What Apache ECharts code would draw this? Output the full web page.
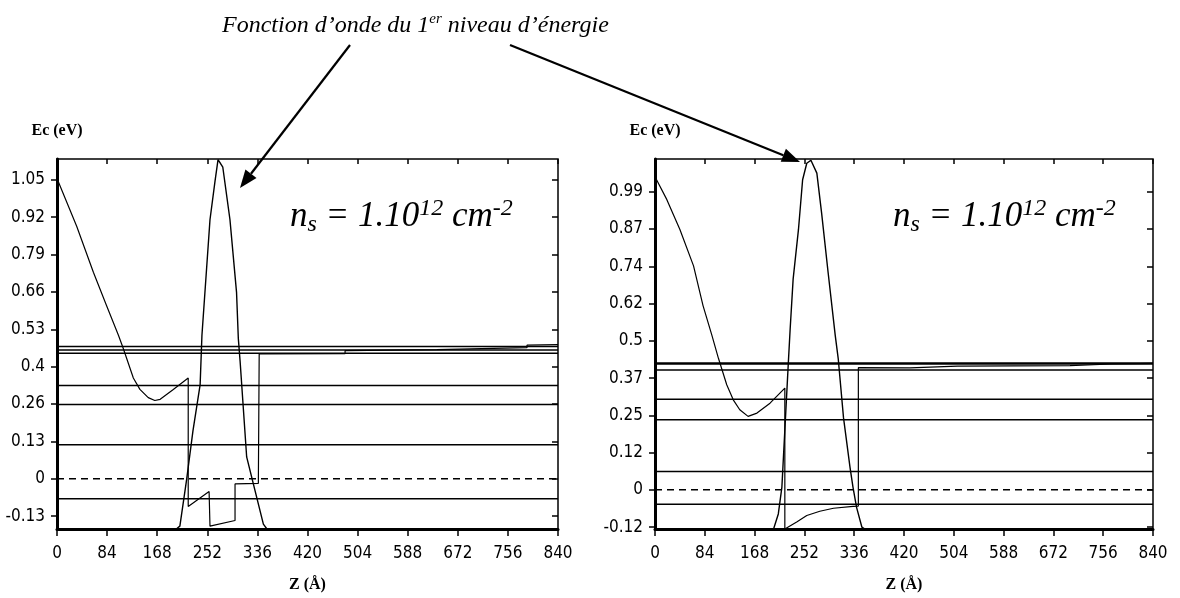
<!DOCTYPE html>
<html>
<head>
<meta charset="utf-8">
<script src="https://cdn.jsdelivr.net/npm/echarts@6/dist/echarts.min.js"></script>
<style>html,body{margin:0;padding:0;background:#fff;}#c{width:1180px;height:598px;}</style>
</head>
<body>
<div id="c"></div>
<script>
// ---------- data ----------
const xTickStep = 84;
const xMax = 840;

// left panel
const yTicksLeft  = [-0.1317, 0, 0.1317, 0.2634, 0.3951, 0.5268, 0.6585, 0.7902, 0.9219, 1.0536];
const yLabelsLeft = ['-0.13', '0', '0.13', '0.26', '0.4', '0.53', '0.66', '0.79', '0.92', '1.05'];
const yRangeLeft  = [-0.177, 1.127];
const levelsLeft  = [-0.0706, 0.1196, 0.2615, 0.329, 0.442, 0.454, 0.466];
const bandLeft = [
  [0, 1.058], [33, 0.89], [61, 0.728], [83, 0.611], [103, 0.506], [111, 0.46], [128, 0.355],
  [139, 0.315], [153, 0.286], [164, 0.276], [173, 0.28], [195, 0.315], [220, 0.355],
  [220, -0.098], [255, -0.045], [256.5, -0.167], [298.5, -0.147], [298.5, -0.018],
  [337.6, -0.016], [339, -0.016], [339, 0.440], [483, 0.441], [483, 0.452], [637, 0.455],
  [637, 0.46], [788, 0.462], [788, 0.471], [840, 0.473]
];
const waveLeft = [
  [200, -0.177], [206, -0.167], [217.5, 0], [228, 0.17], [240, 0.332], [243, 0.505],
  [256.5, 0.913], [265, 1.05], [270, 1.125], [278, 1.098], [290, 0.913], [301, 0.658],
  [304, 0.495], [307, 0.414], [318, 0.077], [329, -0.016], [346, -0.16], [352, -0.177]
];

// right panel
const yTicksRight  = [-0.12375, 0, 0.12375, 0.2475, 0.37125, 0.495, 0.61875, 0.7425, 0.86625, 0.99];
const yLabelsRight = ['-0.12', '0', '0.12', '0.25', '0.37', '0.5', '0.62', '0.74', '0.87', '0.99'];
const yRangeRight  = [-0.13, 1.099];
const levelsRight  = [-0.048, 0.061, 0.233, 0.301, 0.398, 0.42];
const bandRight = [
  [0, 1.04], [20, 0.964], [42, 0.865], [65, 0.744], [81, 0.612], [96, 0.513], [107, 0.437],
  [121, 0.349], [132, 0.299], [143, 0.266], [157, 0.244], [172, 0.255], [194, 0.288],
  [219, 0.338], [219, -0.13], [222, -0.129], [239, -0.107], [256, -0.085], [278, -0.071],
  [301, -0.061], [334, -0.055], [343, -0.054], [343, 0.406], [430, 0.405], [430, 0.41],
  [510, 0.411], [700, 0.413], [770, 0.418], [840, 0.42]
];
const waveRight = [
  [200, -0.13], [208, -0.08], [214, 0.008], [225, 0.426], [228, 0.535], [233, 0.70],
  [242, 0.865], [249, 1.03], [256, 1.085], [263, 1.095], [273, 1.052], [281, 0.92],
  [292, 0.722], [304, 0.513], [309, 0.437], [318, 0.239], [329, 0.074], [334, 0.008],
  [340, -0.058], [349, -0.124], [354, -0.13]
];

const fermiLevel = 0;

// ---------- chart ----------
const chart = echarts.init(document.getElementById('c'), null, {renderer: 'canvas'});
const labelFont = '"Liberation Sans Narrow", "DejaVu Sans Condensed", "Arial Narrow", sans-serif';
const serif = '"Liberation Serif", "Times New Roman", serif';

function pickLabel(ticks, labels) {
  return function (v) {
    let best = 0, bd = Infinity;
    ticks.forEach((t, i) => { const d = Math.abs(t - v); if (d < bd) { bd = d; best = i; } });
    return labels[best];
  };
}

function mainX(grid) {
  return {
    type: 'value', gridIndex: grid, min: 0, max: xMax, interval: xTickStep,
    name: 'Z (Å)', nameLocation: 'middle', nameGap: 48,
    nameTextStyle: {fontFamily: serif, fontWeight: 'bold', fontSize: 16, color: '#000'},
    axisLine: {show: true, onZero: false, lineStyle: {color: '#000', width: 3}},
    axisTick: {show: true, inside: false, length: 7, lineStyle: {color: '#000', width: 1.5}},
    axisLabel: {show: true, margin: 16, color: '#000', fontFamily: labelFont, fontSize: 17},
    splitLine: {show: false}
  };
}
function dupX(grid) {
  return {
    type: 'value', gridIndex: grid, min: 0, max: xMax, interval: xTickStep,
    axisLine: {show: false, onZero: false},
    axisTick: {show: true, inside: true, length: 5, lineStyle: {color: '#000', width: 1.5}},
    axisLabel: {show: false}, splitLine: {show: false}
  };
}
function mainY(grid, range, ticks, labels) {
  return {
    type: 'value', gridIndex: grid, min: range[0], max: range[1],
    name: 'Ec (eV)', nameLocation: 'end', nameGap: 20,
    nameTextStyle: {fontFamily: serif, fontWeight: 'bold', fontSize: 16, color: '#000', align: 'center'},
    axisLine: {show: true, onZero: false, lineStyle: {color: '#000', width: 3}},
    axisTick: {show: true, inside: false, length: 6, customValues: ticks, lineStyle: {color: '#000', width: 1.5}},
    axisLabel: {show: true, margin: 12, customValues: ticks, formatter: pickLabel(ticks, labels),
                color: '#000', fontFamily: labelFont, fontSize: 17},
    splitLine: {show: false}
  };
}
function dupY(grid, range, ticks) {
  return {
    type: 'value', gridIndex: grid, min: range[0], max: range[1],
    axisLine: {show: false, onZero: false},
    axisTick: {show: true, inside: true, length: 6, customValues: ticks, lineStyle: {color: '#000', width: 1.5}},
    axisLabel: {show: false}, splitLine: {show: false}
  };
}

function lineSeries(data, xi, yi, width, type) {
  return {
    type: 'line', xAxisIndex: xi, yAxisIndex: yi, data: data, showSymbol: false, symbol: 'none',
    clip: true, animation: false, silent: true,
    lineStyle: {color: '#000', width: width, type: type || 'solid'}
  };
}

const series = [];
levelsLeft.forEach(v => series.push(lineSeries([[0, v], [xMax, v]], 0, 0, 1.5)));
levelsRight.forEach((v, i) => series.push(lineSeries([[0, v], [xMax, v]], 1, 1, i === levelsRight.length - 1 ? 2.5 : 1.5)));
series.push(lineSeries([[0, fermiLevel], [xMax, fermiLevel]], 0, 0, 1.5, [7, 5]));
series.push(lineSeries([[0, fermiLevel], [xMax, fermiLevel]], 1, 1, 1.5, [7, 5]));
series.push(lineSeries(bandLeft, 0, 0, 1.2));
series.push(lineSeries(waveLeft, 0, 0, 1.4));
series.push(lineSeries(bandRight, 1, 1, 1.2));
series.push(lineSeries(waveRight, 1, 1, 1.4));

function arrow(x1, y1, x2, y2) {
  const dx = x2 - x1, dy = y2 - y1, L = Math.hypot(dx, dy);
  const ux = dx / L, uy = dy / L, hl = 18, hw = 7;
  const bx = x2 - ux * hl, by = y2 - uy * hl;
  return [
    {type: 'line', shape: {x1: x1, y1: y1, x2: bx, y2: by}, style: {stroke: '#000', lineWidth: 2.2}, silent: true},
    {type: 'polygon', shape: {points: [[x2, y2], [bx - uy * hw, by + ux * hw], [bx + uy * hw, by - ux * hw]]},
     style: {fill: '#000'}, silent: true}
  ];
}

const nsRich = {
  i: {fontFamily: serif, fontStyle: 'italic', fontSize: 35, color: '#000'},
  sub: {fontFamily: serif, fontStyle: 'italic', fontSize: 24, color: '#000', padding: [16, 0, 0, 0]},
  sup: {fontFamily: serif, fontStyle: 'italic', fontSize: 24, color: '#000', padding: [0, 0, 16, 0]}
};
const nsText = '{i|n}{sub|s}{i| = 1.10}{sup|12}{i| cm}{sup|-2}';

const graphics = [
  {type: 'text', left: 222, top: 12, silent: true,
   style: {text: '{t|Fonction d’onde du 1}{s|er}{t| niveau d’énergie}',
           rich: {t: {fontFamily: serif, fontStyle: 'italic', fontSize: 24, color: '#000'},
                  s: {fontFamily: serif, fontStyle: 'italic', fontSize: 15, color: '#000', padding: [0, 0, 12, 0]}}}},
  {type: 'text', left: 290, top: 197, silent: true, style: {text: nsText, rich: nsRich}},
  {type: 'text', left: 893, top: 197, silent: true, style: {text: nsText, rich: nsRich}}
].concat(arrow(350, 45, 240, 188), arrow(510, 45, 800, 162));

chart.setOption({
  backgroundColor: '#fff',
  animation: false,
  grid: [
    {left: 57, right: 622, top: 159, bottom: 66, show: true, borderColor: '#000', borderWidth: 1.5},
    {left: 655, right: 27, top: 159, bottom: 66, show: true, borderColor: '#000', borderWidth: 1.5}
  ],
  xAxis: [mainX(0), mainX(1), dupX(0), dupX(1)],
  yAxis: [mainY(0, yRangeLeft, yTicksLeft, yLabelsLeft), mainY(1, yRangeRight, yTicksRight, yLabelsRight),
          dupY(0, yRangeLeft, yTicksLeft), dupY(1, yRangeRight, yTicksRight)],
  series: series,
  graphic: graphics
});
</script>
</body>
</html>
